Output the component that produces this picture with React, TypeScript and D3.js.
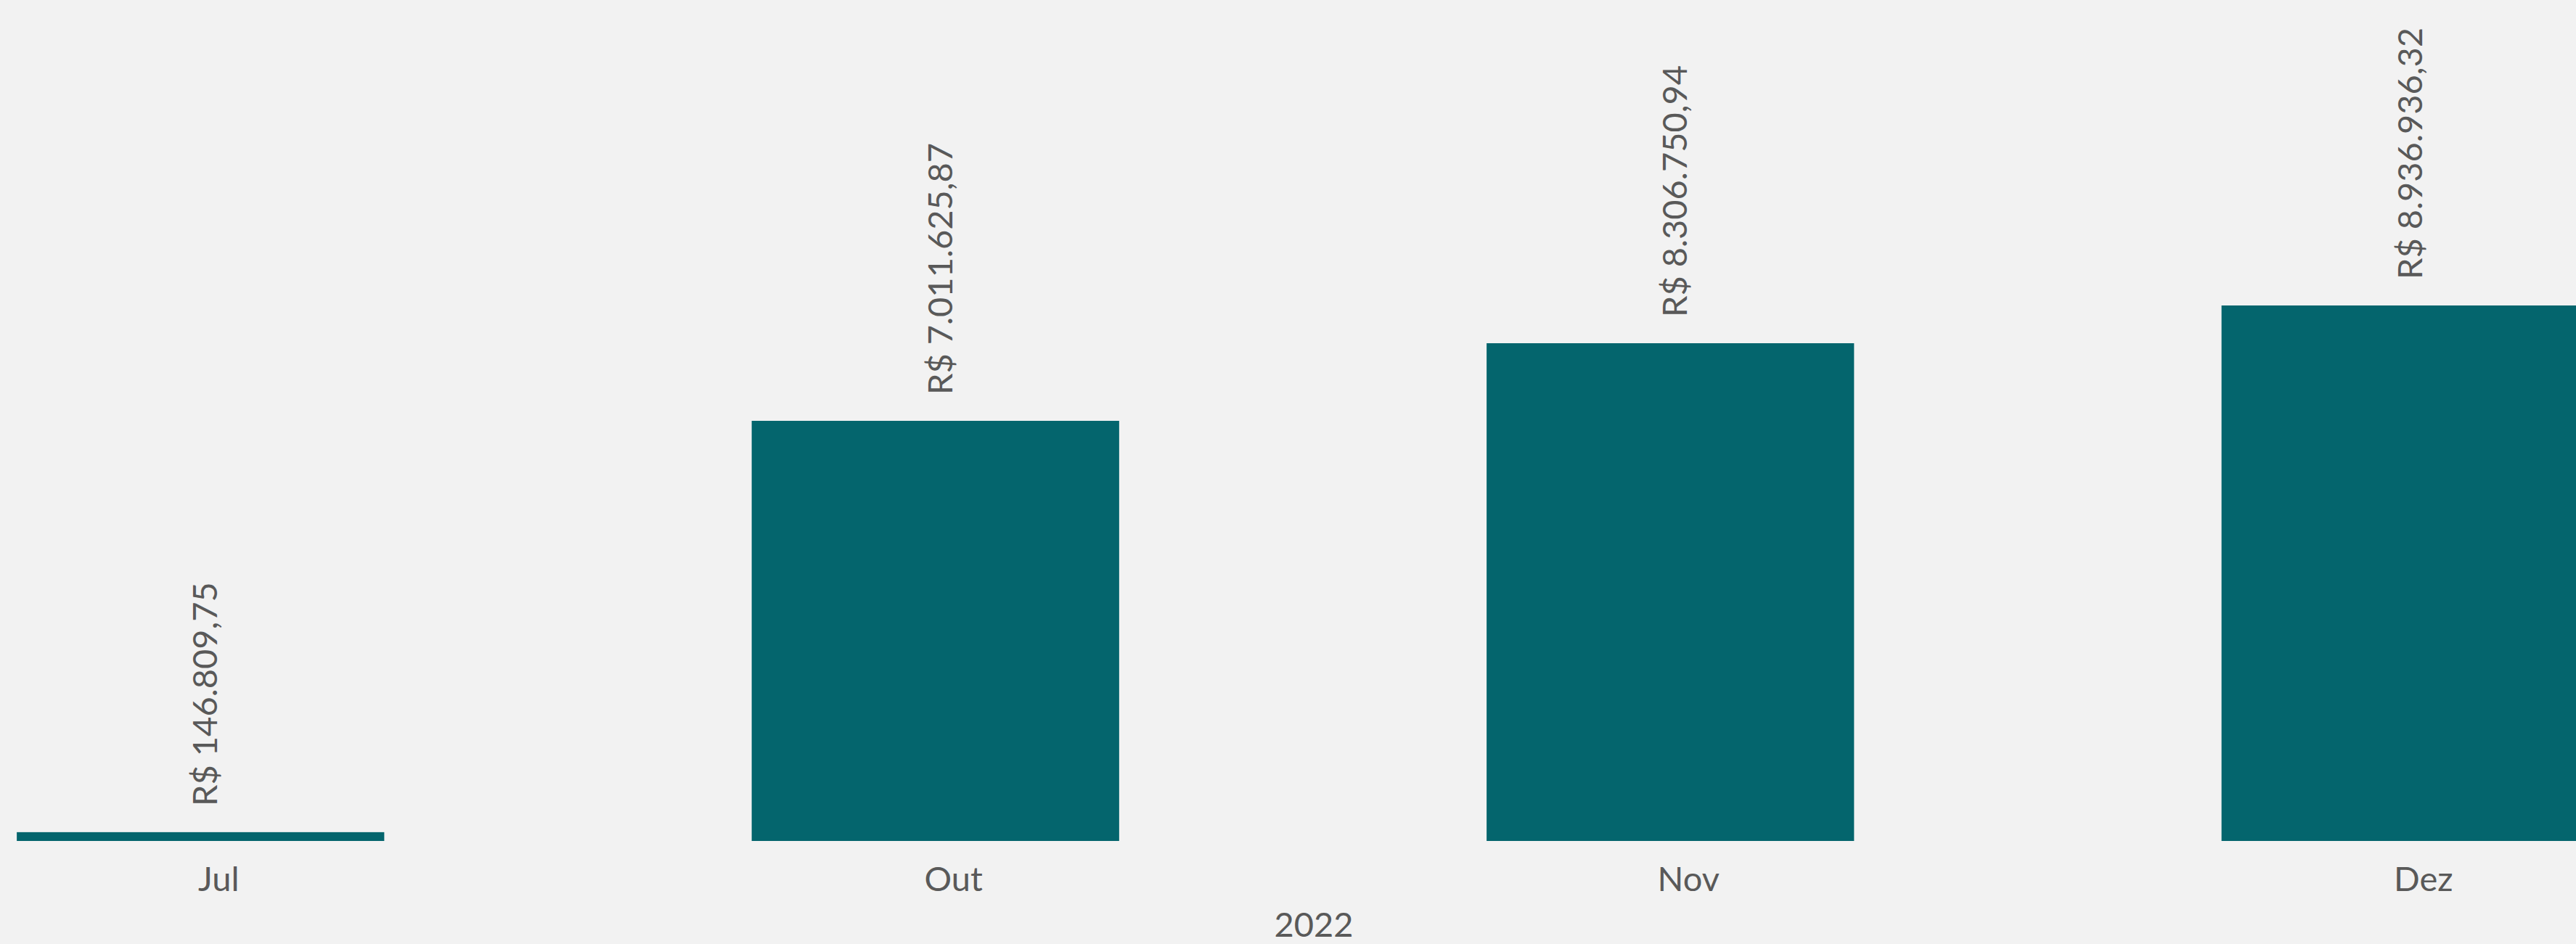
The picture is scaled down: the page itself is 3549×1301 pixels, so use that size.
import React from "react";
import * as d3 from "d3";

const months = ["Jul", "Out", "Nov", "Dez"];
const values = [146809.75, 7011625.87, 8306750.94, 8936936.32];
const yearLabel = "2022";

const W = 3549;
const H = 1301;
const BAR = "#04656D";
const TEXT = "#595959";
const BG = "#F2F2F2";
const FONT = "Lato, 'Open Sans', sans-serif";
const FS = 47;

const fmt = (v: number) => {
  const [i, d] = v.toFixed(2).split(".");
  const withDots = i.replace(/\B(?=(\d{3})+(?!\d))/g, ".");
  return `R$ ${withDots},${d}`;
};

export default function App() {
  const x = d3
    .scaleBand<string>()
    .domain(months)
    .range([-230, 3820])
    .paddingInner(0.5)
    .paddingOuter(0.25);
  const y = d3.scaleLinear().domain([0, 10000000]).range([1159, 333.2]);
  const bw = x.bandwidth();

  return (
    <svg
      width={W}
      height={H}
      style={{ position: "fixed", left: 0, top: 0, display: "block" }}
      fontFamily={FONT}
    >
      <rect x={0} y={0} width={W} height={H} fill={BG} />
      {months.map((m, i) => {
        const x0 = x(m)!;
        const cx = x0 + bw / 2;
        const top = y(values[i]);
        return (
          <g key={m}>
            <rect x={x0} y={top} width={bw} height={y(0) - top} fill={BAR} />
            <text
              transform={`translate(${cx + 23},${top - 36}) rotate(-90)`}
              fontSize={FS}
              fill={TEXT}
              textAnchor="start"
            >
              {fmt(values[i])}
            </text>
            <text
              x={cx + 25}
              y={1228}
              fontSize={FS}
              fill={TEXT}
              textAnchor="middle"
            >
              {m}
            </text>
          </g>
        );
      })}
      <text x={1810} y={1291} fontSize={FS} fill={TEXT} textAnchor="middle">
        {yearLabel}
      </text>
    </svg>
  );
}
